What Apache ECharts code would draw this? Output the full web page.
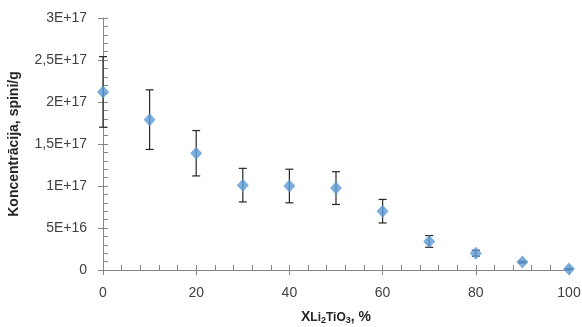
<!DOCTYPE html>
<html>
<head>
<meta charset="utf-8">
<script src="https://cdn.jsdelivr.net/npm/echarts@6/dist/echarts.min.js"></script>
<style>html,body{margin:0;padding:0;background:#fff}#c{width:582px;height:327px}</style>
</head>
<body>
<div id="c"></div>
<script>
var xValues = [0, 10, 20, 30, 40, 50, 60, 70, 80, 90, 100];
var yValues = [2.12e17, 1.79e17, 1.39e17, 1.01e17, 1.00e17, 0.975e17, 0.70e17, 0.34e17, 0.20e17, 0.095e17, 0.012e17];
var yErrors = [0.42e17, 0.355e17, 0.27e17, 0.20e17, 0.20e17, 0.195e17, 0.14e17, 0.07e17, 0.035e17, 0.01e17, 0.002e17];
var yTickLabels = ["0", "5E+16", "1E+17", "1,5E+17", "2E+17", "2,5E+17", "3E+17"];
var xTickLabels = ["0", "20", "40", "60", "80", "100"];

var pts = xValues.map(function (x, i) { return [x, yValues[i]]; });
var errs = xValues.map(function (x, i) { return [x, yValues[i] - yErrors[i], yValues[i] + yErrors[i]]; });

var font = "'Liberation Sans', Arial, sans-serif";
var axisColor = '#868686';
var chart = echarts.init(document.getElementById('c'), null, {renderer: 'canvas'});
var grid = {left: 103, right: 13, top: 18, bottom: 57, containLabel: false, outerBoundsMode: 'none'};
chart.setOption({
  animation: false,
  grid: grid,
  xAxis: [{
    type: 'value', min: 0, max: 100, interval: 20,
    axisLine: {show: true, lineStyle: {color: axisColor}},
    axisTick: {show: true, inside: true, length: 5, lineStyle: {color: axisColor}},
    minorTick: {show: true, splitNumber: 5, length: 5, lineStyle: {color: axisColor}},
    splitLine: {show: false},
    axisLabel: {color: '#404040', fontFamily: font, fontSize: 14, margin: 16,
      formatter: function (v) { return xTickLabels[Math.round(v / 20)]; }},
    name: '{x|X}{s|Li}{sub|2}{s|TiO}{sub|3}{x|, %}',
    nameLocation: 'middle', nameGap: 40,
    nameTextStyle: {
      rich: {
        x: {fontFamily: font, fontSize: 14, fontWeight: 'bold', color: '#262626'},
        s: {fontFamily: font, fontSize: 12, fontWeight: 'bold', color: '#262626'},
        sub: {fontFamily: font, fontSize: 9, fontWeight: 'bold', color: '#262626', verticalAlign: 'bottom', padding: [6, 0, 0, 0]}
      }
    }
  }, {
    type: 'value', min: 0, max: 100, interval: 20, position: 'bottom',
    axisLine: {show: false},
    axisTick: {show: true, inside: false, length: 5, lineStyle: {color: axisColor}},
    axisLabel: {show: false}, splitLine: {show: false}
  }],
  yAxis: [{
    type: 'value', min: 0, max: 3e17, interval: 5e16,
    axisLine: {show: true, lineStyle: {color: axisColor}},
    axisTick: {show: true, inside: true, length: 5, lineStyle: {color: axisColor}},
    minorTick: {show: true, splitNumber: 5, length: 5, lineStyle: {color: axisColor}},
    splitLine: {show: false},
    axisLabel: {color: '#404040', fontFamily: font, fontSize: 14, margin: 16,
      formatter: function (v) { return yTickLabels[Math.round(v / 5e16)]; }},
    name: 'Koncentrācija, spini/g',
    nameLocation: 'middle', nameGap: 82, nameRotate: 90,
    nameTextStyle: {fontFamily: font, fontSize: 14, fontWeight: 'bold', color: '#262626'}
  }, {
    type: 'value', min: 0, max: 3e17, interval: 5e16, position: 'left',
    axisLine: {show: false},
    axisTick: {show: true, inside: false, length: 5, lineStyle: {color: axisColor}},
    axisLabel: {show: false}, splitLine: {show: false}
  }],
  series: [{
    type: 'custom',
    xAxisIndex: 0, yAxisIndex: 0,
    clip: false, z: 2,
    data: errs,
    renderItem: function (params, api) {
      var x = api.value(0);
      var lo = api.coord([x, api.value(1)]);
      var hi = api.coord([x, api.value(2)]);
      var w = 4;
      var st = {stroke: '#262626', lineWidth: 1.2};
      return {
        type: 'group',
        children: [
          {type: 'line', shape: {x1: lo[0], y1: lo[1], x2: hi[0], y2: hi[1]}, style: st},
          {type: 'line', shape: {x1: lo[0] - w, y1: lo[1], x2: lo[0] + w, y2: lo[1]}, style: st},
          {type: 'line', shape: {x1: hi[0] - w, y1: hi[1], x2: hi[0] + w, y2: hi[1]}, style: st}
        ]
      };
    }
  }, {
    type: 'scatter',
    xAxisIndex: 0, yAxisIndex: 0,
    clip: false, z: 3,
    symbol: 'diamond', symbolSize: [12, 13],
    itemStyle: {color: '#5B9BD5'},
    data: pts
  }]
});
</script>
</body>
</html>
